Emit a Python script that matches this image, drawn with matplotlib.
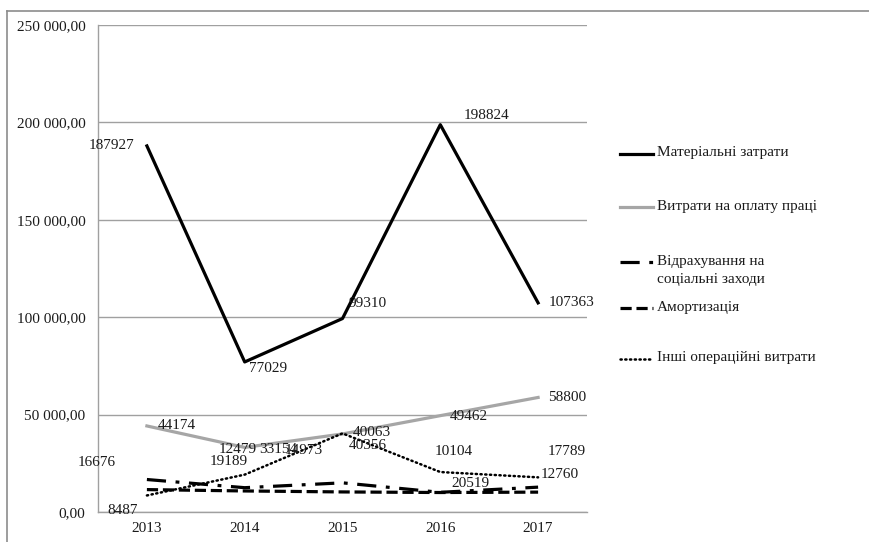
import matplotlib
matplotlib.use("Agg")
import matplotlib.pyplot as plt
from matplotlib.lines import Line2D
from matplotlib.ticker import FuncFormatter

plt.rcParams['font.family'] = ['Liberation Serif', 'DejaVu Serif']

years = ['2013', '2014', '2015', '2016', '2017']

material = [187927, 77029, 99310, 198824, 107363]
labour = [44174, 33154, 40063, 49462, 58800]
social = [16676, 12479, 14973, 10104, 12760]
amort = [11500, 10800, 10300, 10000, 10200]
other = [8487, 19189, 40356, 20519, 17789]

names = ['Матеріальні затрати', 'Витрати на оплату праці',
         'Відрахування на\nсоціальні заходи', 'Амортизація',
         'Інші операційні витрати']

# label offsets (pixels) from each point
off_material = [(-35, 0), (23, -7), (25, 15), (46, 9), (33, 0)]
off_labour = [(30, 0), (34, -2), (29, 1), (29, -1), (29, 0)]
off_social = [(-50, 17), (-7, 38), (-39, 32), (13, 41), (22, 13)]
off_other = [(-24, -15), (-16, 13), (25, -12), (30, -11), (29, 26)]

FS = 11

fig = plt.figure(figsize=(8.7, 5.42), dpi=100)
ax = fig.add_axes([98 / 870, 30 / 542, 489 / 870, 487 / 542])

styles = [
    dict(color='black', lw=2.3),
    dict(color='#a6a6a6', lw=2.3),
    dict(color='black', lw=2.3, dashes=(6, 3, 1.2, 3)),
    dict(color='black', lw=2.3, dashes=(3.5, 1.5)),
    dict(color='black', lw=1.8, dashes=(0.5, 1.4), dash_capstyle='round'),
]

x = list(range(len(years)))
for vals, st in zip([material, labour, social, amort, other], styles):
    ax.plot(x, vals, **st)

for vals, offs in [(material, off_material), (labour, off_labour),
                   (social, off_social), (other, off_other)]:
    for i, v in enumerate(vals):
        ax.annotate(str(v), (i, v), xytext=offs[i], textcoords='offset pixels',
                    ha='center', va='center', fontsize=FS, color='#1a1a1a')

ax.set_xlim(-0.5, 4.5)
ax.set_ylim(0, 250000)
ax.set_yticks(range(0, 250001, 50000))
ax.yaxis.set_major_formatter(FuncFormatter(
    lambda v, p: f"{v:,.2f}".replace(',', ' ').replace('.', ',')))
ax.set_xticks(x)
ax.set_xticklabels(years)
ax.tick_params(length=0, labelsize=FS, colors='#1a1a1a')
ax.tick_params(axis='y', pad=9)
ax.tick_params(axis='x', pad=7)
ax.grid(axis='y', color='#a0a0a0', lw=1)
ax.set_axisbelow(True)
for s in ['top', 'right']:
    ax.spines[s].set_visible(False)
for s in ['left', 'bottom']:
    ax.spines[s].set_color('#a0a0a0')
    ax.spines[s].set_linewidth(1)

# legend drawn by hand: handle and text per entry
W, H = 870, 542
leg_y = [154, 207, 262, 308, 359]
for name, st, yy in zip(names, styles, leg_y):
    fy = 1 - yy / H
    fig.add_artist(Line2D([620 / W, 653 / W], [fy, fy], transform=fig.transFigure, **st))
    fig.text(657 / W, fy + 7.5 / H, name, ha='left', va='top', fontsize=FS,
             color='#1a1a1a', linespacing=1.55)

# outer chart frame
fig.add_artist(Line2D([7 / W, 1], [1 - 10.5 / H] * 2, color='#8c8c8c', lw=1.2,
                      transform=fig.transFigure))
fig.add_artist(Line2D([7 / W] * 2, [0, 1 - 10.5 / H], color='#8c8c8c', lw=1.2,
                      transform=fig.transFigure))

fig.savefig('out.png', dpi=100)
